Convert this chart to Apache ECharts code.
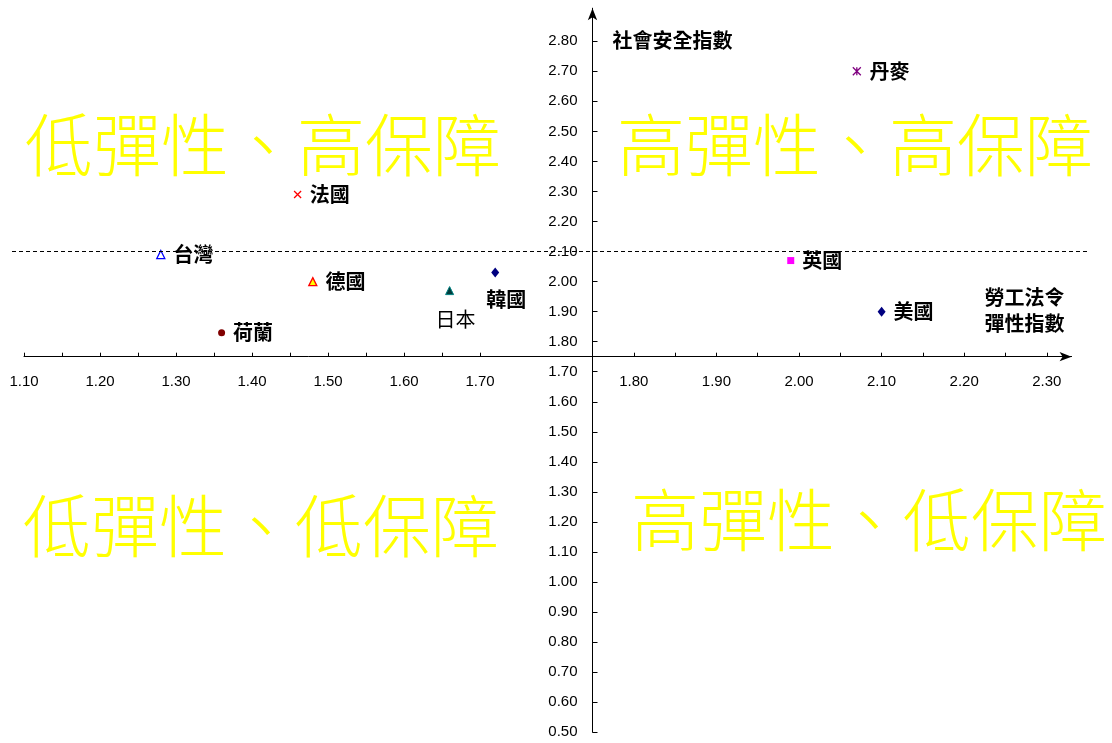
<!DOCTYPE html>
<html>
<head>
<meta charset="utf-8">
<script src="https://cdn.jsdelivr.net/npm/echarts@6/dist/echarts.min.js"></script>
<style>
  html, body { margin: 0; padding: 0; background: #ffffff; }
  #chart { width: 1112px; height: 743px; }
</style>
</head>
<body>
<div id="chart"></div>
<script>
// 勞工法令彈性指數較低的一側（左半）
const leftCountries = ['法國', '台灣', '德國', '荷蘭', '日本', '韓國'];
const leftFlexIndex = [1.46, 1.28, 1.48, 1.36, 1.66, 1.72];
const leftSecurityIndex = [2.29, 2.09, 2.00, 1.83, 1.97, 2.03];

// 勞工法令彈性指數較高的一側（右半）
const rightCountries = ['丹麥', '英國', '美國'];
const rightFlexIndex = [2.07, 1.99, 2.10];
const rightSecurityIndex = [2.70, 2.07, 1.90];

// 刻度標籤
const xTicksLeft = ['1.10', '1.20', '1.30', '1.40', '1.50', '1.60', '1.70'];
const xTicksRight = ['1.80', '1.90', '2.00', '2.10', '2.20', '2.30'];
const yTicksUpper = ['1.80', '1.90', '2.00', '2.10', '2.20', '2.30', '2.40', '2.50', '2.60', '2.70', '2.80'];
const yTicksLower = ['0.50', '0.60', '0.70', '0.80', '0.90', '1.00', '1.10', '1.20', '1.30', '1.40', '1.50', '1.60', '1.70'];

const axisCross = 1.75;          // 兩軸交會處
const securityReference = 2.10;  // 社會安全指數參考線
const quadrantNames = ['低彈性、高保障', '高彈性、高保障', '低彈性、低保障', '高彈性、低保障'];
const xAxisTitle = '勞工法令\n彈性指數';
const yAxisTitle = '社會安全指數';

// ---- 版面與樣式 ----
const NUM_FONT = '"Liberation Sans", Arial, sans-serif';
const CJK_FONT = '"Noto Sans CJK TC", "Noto Sans CJK SC", sans-serif';
const PX_PER_UNIT_Y = 300.43;
const yTop = 2.91, yBottom = 0.50;
const crossPx = 356.7;
const upperTop = crossPx - (yTop - axisCross) * PX_PER_UNIT_Y;
const upperHeight = crossPx - upperTop;
const lowerHeight = (axisCross - yBottom) * PX_PER_UNIT_Y;

const leftGridLeft = 24, leftPxPerUnit = 760;
const rightGridLeft = 592.5, rightPxPerUnit = 826;
const leftGridWidth = rightGridLeft - leftGridLeft;
const leftMin = Number(xTicksLeft[0]);
const leftMax = leftMin + leftGridWidth / leftPxPerUnit;
const rightMax = 2.33;
const rightGridWidth = (rightMax - axisCross) * rightPxPerUnit;

const CROSS = 'path://M0 0L10 10M10 0L0 10';
const STAR = 'path://M0 0L10 10M10 0L0 10M5 0L5 10';
const markStyles = {
  '法國': { symbol: CROSS, size: 7, fill: 'rgba(0,0,0,0)', stroke: '#ff0000', lw: 1.3 },
  '台灣': { symbol: 'triangle', size: 8, fill: '#ffffff', stroke: '#0000ff', lw: 1.3 },
  '德國': { symbol: 'triangle', size: 8, fill: '#ffff00', stroke: '#ff0000', lw: 1.3 },
  '荷蘭': { symbol: 'circle', size: 7, fill: '#800000', stroke: '#800000', lw: 0 },
  '日本': { symbol: 'triangle', size: 8, fill: '#003c3c', stroke: '#008080', lw: 1 },
  '韓國': { symbol: 'diamond', size: [8, 10], fill: '#000080', stroke: '#000080', lw: 0 },
  '丹麥': { symbol: STAR, size: 8, fill: 'rgba(0,0,0,0)', stroke: '#800080', lw: 1.3 },
  '英國': { symbol: 'rect', size: 7, fill: '#ff00ff', stroke: '#ff00ff', lw: 0 },
  '美國': { symbol: 'diamond', size: [8, 10], fill: '#000080', stroke: '#000080', lw: 0 }
};
const labelStyles = {
  '日本': { position: 'bottom', distance: 14, offset: [6, 0], fontWeight: 'normal' },
  '韓國': { position: 'bottom', distance: 12, offset: [11, 0] }
};

function halfSteps(ticks) {
  const vals = ticks.map(Number);
  const out = [];
  vals.forEach((v, i) => {
    out.push(v);
    if (i < vals.length - 1) out.push(+(((v + vals[i + 1]) / 2).toFixed(3)));
  });
  return out;
}

function buildPoints(names, xs, ys) {
  return names.map((name, i) => {
    const s = markStyles[name];
    const l = labelStyles[name] || {};
    return {
      name: name,
      value: [xs[i], ys[i]],
      symbol: s.symbol,
      symbolSize: s.size,
      itemStyle: { color: s.fill, borderColor: s.stroke, borderWidth: s.lw, opacity: 1 },
      label: Object.assign({ position: 'right', distance: 8 }, l)
    };
  });
}

const axisLineStyle = { color: '#000000', width: 1 };
const numLabel = { color: '#000000', fontSize: 15, fontFamily: NUM_FONT, formatter: v => Number(v).toFixed(2) };
const hiddenAxis = { show: false };
const pointLabel = {
  show: true, formatter: '{b}', color: '#000000', opacity: 1,
  fontSize: 20, fontWeight: 'bold', fontFamily: CJK_FONT
};

const chart = echarts.init(document.getElementById('chart'), null, { renderer: 'canvas' });

chart.setOption({
  animation: false,
  backgroundColor: '#ffffff',
  grid: [
    // 0: 左上
    { left: leftGridLeft, top: upperTop, width: leftGridWidth, height: upperHeight, outerBoundsMode: 'none' },
    // 1: 右上
    { left: rightGridLeft, top: upperTop, width: rightGridWidth, height: upperHeight, outerBoundsMode: 'none' },
    // 2: 右下（縱軸下段）
    { left: rightGridLeft, top: crossPx, width: rightGridWidth, height: lowerHeight, outerBoundsMode: 'none' },
    // 3: 參考虛線
    { left: 12, top: upperTop, width: 1076, height: upperHeight, outerBoundsMode: 'none' }
  ],
  xAxis: [
    {
      gridIndex: 0, type: 'value', min: leftMin, max: leftMax, position: 'bottom',
      splitLine: { show: false },
      axisLine: { show: true, onZero: false, lineStyle: axisLineStyle },
      axisTick: { show: true, inside: true, length: 4, lineStyle: axisLineStyle, customValues: halfSteps(xTicksLeft) },
      axisLabel: Object.assign({ margin: 18, customValues: xTicksLeft.map(Number) }, numLabel)
    },
    {
      gridIndex: 1, type: 'value', min: axisCross, max: rightMax, position: 'bottom',
      splitLine: { show: false },
      axisLine: { show: true, onZero: false, lineStyle: axisLineStyle, symbol: ['none', 'arrow'], symbolSize: [7, 12] },
      axisTick: { show: true, inside: true, length: 4, lineStyle: axisLineStyle, customValues: halfSteps(xTicksRight) },
      axisLabel: Object.assign({ margin: 18, customValues: xTicksRight.map(Number) }, numLabel),
      name: xAxisTitle,
      nameLocation: 'end',
      nameGap: -7,
      nameTextStyle: {
        color: '#000000', fontSize: 20, fontWeight: 'bold', fontFamily: CJK_FONT,
        align: 'right', verticalAlign: 'bottom', lineHeight: 26, padding: [0, 0, 20, 0]
      }
    },
    Object.assign({ gridIndex: 2, type: 'value', min: axisCross, max: rightMax }, hiddenAxis),
    Object.assign({ gridIndex: 3, type: 'value', min: 0, max: 1 }, hiddenAxis)
  ],
  yAxis: [
    Object.assign({ gridIndex: 0, type: 'value', min: axisCross, max: yTop }, hiddenAxis),
    {
      gridIndex: 1, type: 'value', min: axisCross, max: yTop, position: 'left',
      splitLine: { show: false },
      axisLine: { show: true, onZero: false, lineStyle: axisLineStyle, symbol: ['none', 'arrow'], symbolSize: [7, 12] },
      axisTick: { show: true, inside: true, length: 5, lineStyle: axisLineStyle, customValues: yTicksUpper.map(Number) },
      axisLabel: Object.assign({ margin: 15, customValues: yTicksUpper.map(Number) }, numLabel),
      name: yAxisTitle,
      nameLocation: 'end',
      nameGap: -32,
      nameTextStyle: {
        color: '#000000', fontSize: 20, fontWeight: 'bold', fontFamily: CJK_FONT,
        align: 'left', verticalAlign: 'middle', padding: [0, 0, 0, 20]
      }
    },
    {
      gridIndex: 2, type: 'value', min: yBottom, max: axisCross, position: 'left',
      splitLine: { show: false },
      axisLine: { show: true, onZero: false, lineStyle: axisLineStyle },
      axisTick: { show: true, inside: true, length: 5, lineStyle: axisLineStyle, customValues: yTicksLower.map(Number) },
      axisLabel: Object.assign({ margin: 15, customValues: yTicksLower.map(Number) }, numLabel)
    },
    Object.assign({ gridIndex: 3, type: 'value', min: axisCross, max: yTop }, hiddenAxis)
  ],
  graphic: [
    { pos: [263, 145] }, { pos: [855, 145] }, { pos: [261, 526] }, { pos: [869, 520] }
  ].map((g, i) => ({
    type: 'text', x: g.pos[0], y: g.pos[1], z: 0, silent: true,
    style: {
      text: quadrantNames[i], fill: '#ffff00',
      fontSize: 68, fontWeight: 300, fontFamily: CJK_FONT,
      textAlign: 'center', textVerticalAlign: 'middle'
    }
  })),
  series: [
    {
      type: 'scatter', xAxisIndex: 3, yAxisIndex: 3, data: [], silent: true, z: 1,
      markLine: {
        silent: true, symbol: ['none', 'none'], animation: false,
        label: { show: false },
        lineStyle: { color: '#000000', width: 1, type: [4, 3] },
        data: [{ yAxis: securityReference }]
      }
    },
    {
      type: 'scatter', xAxisIndex: 0, yAxisIndex: 0, z: 3,
      label: pointLabel,
      data: buildPoints(leftCountries, leftFlexIndex, leftSecurityIndex)
    },
    {
      type: 'scatter', xAxisIndex: 1, yAxisIndex: 1, z: 3,
      label: pointLabel,
      data: buildPoints(rightCountries, rightFlexIndex, rightSecurityIndex)
    }
  ]
});
</script>
</body>
</html>
